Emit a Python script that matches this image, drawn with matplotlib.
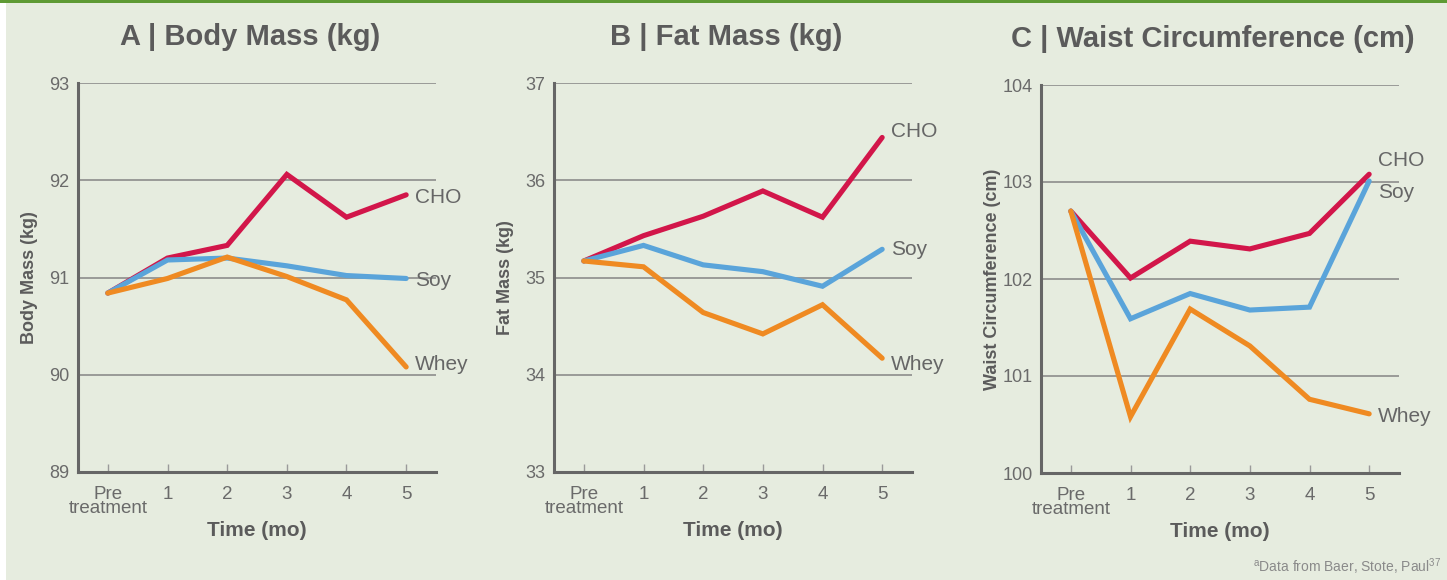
import matplotlib
matplotlib.use("Agg")
import matplotlib.pyplot as plt
from matplotlib.patches import Rectangle

# ------------------------------------------------------------
# data
# ------------------------------------------------------------
time_labels = ["Pre\ntreatment", "1", "2", "3", "4", "5"]
groups = ["CHO", "Soy", "Whey"]

body_cho = [90.84, 91.20, 91.33, 92.06, 91.62, 91.85]
body_soy = [90.84, 91.18, 91.20, 91.12, 91.02, 90.99]
body_whey = [90.84, 90.99, 91.21, 91.01, 90.77, 90.08]

fat_cho = [35.17, 35.43, 35.63, 35.89, 35.62, 36.44]
fat_soy = [35.17, 35.33, 35.13, 35.06, 34.91, 35.29]
fat_whey = [35.17, 35.11, 34.64, 34.42, 34.72, 34.17]

waist_cho = [102.70, 102.01, 102.39, 102.31, 102.47, 103.08]
waist_soy = [102.70, 101.59, 101.85, 101.68, 101.71, 103.01]
waist_whey = [102.70, 100.58, 101.69, 101.31, 100.76, 100.61]

# ------------------------------------------------------------
# style
# ------------------------------------------------------------
plt.rcParams["font.family"] = ["Liberation Sans", "DejaVu Sans"]
plt.rcParams["mathtext.default"] = "regular"

BG = "#e6ecdf"
COLORS = {"CHO": "#d2164a", "Soy": "#5aa4da", "Whey": "#ef8a22"}
TXT = "#5b5b5b"
LABEL_TXT = "#666666"

W, H = 1447, 580
fig = plt.figure(figsize=(W / 100, H / 100), dpi=100)
fig.patch.set_facecolor("white")
fig.add_artist(Rectangle((6 / W, 0), 1 - 6 / W, 1, transform=fig.transFigure,
                         facecolor=BG, edgecolor="none", zorder=-10))
fig.add_artist(Rectangle((0, 1 - 3 / H), 1, 3 / H, transform=fig.transFigure,
                         facecolor="#5e9a34", edgecolor="none", zorder=-5))

# panel: (title, ylabel, ylim, series, left px, top px, bottom px, end-label y offsets in pt)
panels = [
    ("A | Body Mass (kg)", "Body Mass (kg)", (89, 93),
     [body_cho, body_soy, body_whey], 78, 83, 472, [-2, -1.5, 2]),
    ("B | Fat Mass (kg)", "Fat Mass (kg)", (33, 37),
     [fat_cho, fat_soy, fat_whey], 554, 83, 472, [4.5, 0, -4.3]),
    ("C | Waist Circumference (cm)", "Waist Circumference (cm)", (100, 104),
     [waist_cho, waist_soy, waist_whey], 1041, 85, 473, [10, -8, -2]),
]
axw = 358

x = list(range(len(time_labels)))

for title, ylabel, ylim, series, left, top, bottom, offs in panels:
    ax = fig.add_axes([left / W, 1 - bottom / H, axw / W, (bottom - top) / H])
    ax.set_facecolor("none")
    ax.set_xlim(-0.5, 5.5)
    ax.set_ylim(*ylim)

    for spine in ("top", "right"):
        ax.spines[spine].set_visible(False)
    for spine in ("left", "bottom"):
        ax.spines[spine].set_color("#666666")
        ax.spines[spine].set_linewidth(2.2)

    yt = list(range(ylim[0], ylim[1] + 1))
    ax.set_yticks(yt)
    ax.set_yticklabels([str(v) for v in yt])
    for v in yt[1:]:
        ax.axhline(v, color="#8c8c8c", lw=1.2, zorder=1)

    ax.set_xticks(x)
    ax.set_xticklabels(time_labels, linespacing=0.8)
    ax.tick_params(axis="x", direction="in", length=6, width=1, color="#9a9a9a",
                   labelsize=13.5, labelcolor="#6a6a6a", pad=10)
    ax.tick_params(axis="y", length=0, labelsize=13, labelcolor="#6a6a6a", pad=6)

    for name, vals, dy in zip(groups, series, offs):
        ax.plot(x, vals, color=COLORS[name], lw=3.7, solid_capstyle="round",
                solid_joinstyle="miter", zorder=3, clip_on=False)
        ax.annotate(name, (x[-1], vals[-1]), xytext=(6.5, dy), textcoords="offset points",
                    ha="left", va="center", fontsize=15, color=LABEL_TXT)

    ax.set_xlabel("Time (mo)", fontsize=15, fontweight="bold", color=TXT, labelpad=3)
    ax.set_ylabel(ylabel, fontsize=13, fontweight="bold", color=TXT)
    ax.yaxis.set_label_coords(-40 / axw, 0.5)
    ax.text(0.48, 1 + 46 / (bottom - top), title, transform=ax.transAxes,
            ha="center", va="center", fontsize=21, fontweight="bold", color=TXT)

fig.text(1441 / W, 1 - 567 / H, "$^{a}$Data from Baer, Stote, Paul$^{37}$",
         ha="right", va="center", fontsize=10, color="#8a8a8a")

fig.savefig("out.png", dpi=100, facecolor=fig.get_facecolor())
